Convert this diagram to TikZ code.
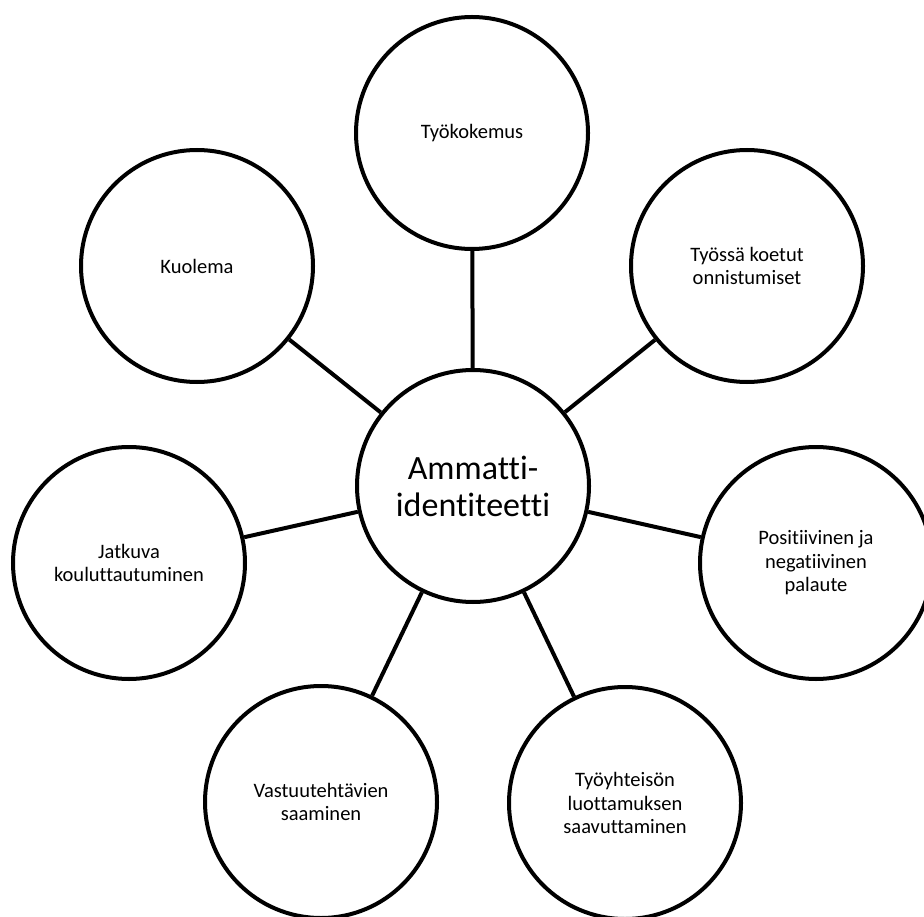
\documentclass[tikz,border=0pt]{standalone}
\usepackage{fontspec}
\setmainfont[Ligatures=NoCommon]{Carlito}
\begin{document}
\begin{tikzpicture}[x=1pt,y=-1pt,
  bubble/.style={circle,draw=black,line width=4pt,minimum size=232pt,inner sep=0pt,
    align=center,font={\fontsize{20.5}{23.5}\selectfont}},
  hub/.style={bubble,font={\fontsize{34}{37}\selectfont}},
  link/.style={draw=black,line width=4pt}]
\useasboundingbox (0,0) rectangle (924,917);
\clip (0,0) rectangle (924,917);
\node[hub] (c) at (473,486) {Ammatti-\\identiteetti};
\node[bubble] (t) at (472,133) {Työkokemus};
\node[bubble] (k) at (197,266) {Kuolema};
\node[bubble] (o) at (747,266) {Työssä koetut\\onnistumiset};
\node[bubble] (j) at (129,563) {Jatkuva\\kouluttautuminen};
\node[bubble] (p) at (816,563) {Positiivinen ja\\negatiivinen\\palaute};
\node[bubble] (v) at (321,802) {Vastuutehtävien\\saaminen};
\node[bubble] (y) at (625,803) {Työyhteisön\\luottamuksen\\saavuttaminen};
\foreach \n in {t,k,o,j,p,v,y} \draw[link] (c) -- (\n);
\end{tikzpicture}
\end{document}
